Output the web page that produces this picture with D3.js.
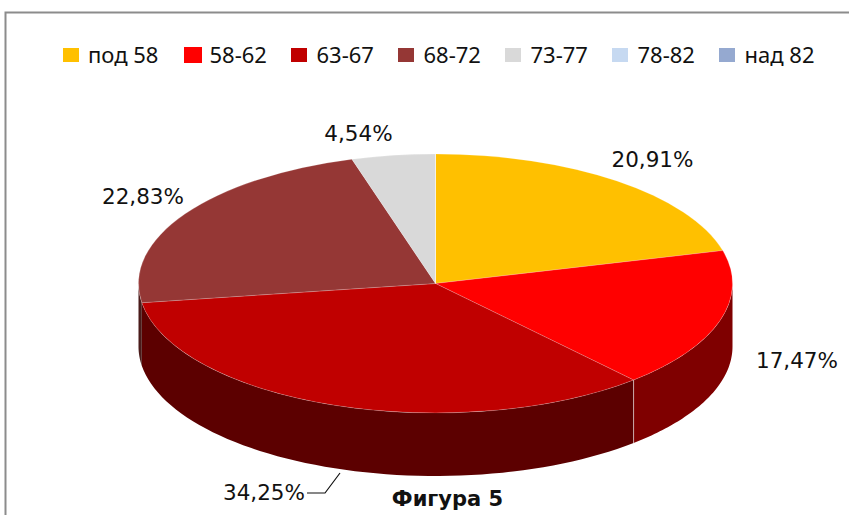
<!DOCTYPE html>
<html>
<head>
<meta charset="utf-8">
<script src="https://cdnjs.cloudflare.com/ajax/libs/d3/7.8.5/d3.min.js"></script>
<style>
  html, body { margin: 0; padding: 0; background: #fff; }
  svg { display: block; }
</style>
</head>
<body>
<svg width="849" height="515"></svg>
<script>
var categories = ["под 58", "58-62", "63-67", "68-72", "73-77", "78-82", "над 82"];
var shares = [20.91, 17.47, 34.25, 22.83, 4.54, 0, 0];
var shareLabels = ["20,91%", "17,47%", "34,25%", "22,83%", "4,54%", "", ""];
var caption = "Фигура 5";

var topColors = ["#ffc000", "#ff0000", "#c00000", "#953735", "#d9d9d9", "#c6d9f1", "#95a9d0"];
var wallColors = ["#7f6000", "#7f0000", "#5c0000", "#4a1b1a", "#6c6c6c", "#627080", "#4a5468"];

var svg = d3.select("svg"),
  width = +svg.attr("width"),
  height = +svg.attr("height");

var cx = 435.5,
  cy = 283.5,
  rx = 297,
  ry = 129.5,
  depth = 63;

// frame, only top and left show in the crop
svg
  .append("path")
  .attr("d", "M5.5," + height + "V12.5H" + width)
  .attr("fill", "none")
  .attr("stroke", "#8c8c8c")
  .attr("stroke-width", 2);

var pie = d3
  .pie()
  .sort(null)
  .value(function (d) {
    return d;
  });
var slices = pie(shares);

// walls: the front half of the rim, going down by depth
var rimLine = d3.line();
function rimPoint(a, dy) {
  return [cx + rx * Math.sin(a), cy - ry * Math.cos(a) + dy];
}
function wallPath(d) {
  var a0 = Math.max(d.startAngle, Math.PI / 2);
  var a1 = Math.min(d.endAngle, (3 * Math.PI) / 2);
  if (a1 <= a0) return null;
  var angles = d3.range(0, 61).map(function (i) {
    return a0 + ((a1 - a0) * i) / 60;
  });
  var upper = angles.map(function (a) {
    return rimPoint(a, 0);
  });
  var lower = angles
    .slice()
    .reverse()
    .map(function (a) {
      return rimPoint(a, depth);
    });
  return rimLine(upper.concat(lower)) + "Z";
}

svg
  .append("g")
  .selectAll("path")
  .data(slices)
  .enter()
  .append("path")
  .attr("d", wallPath)
  .attr("fill", function (d, i) {
    return wallColors[i];
  });

// edge between the red and dark red walls
var edgeAngle = slices[1].endAngle;
svg
  .append("line")
  .attr("x1", rimPoint(edgeAngle, 0)[0])
  .attr("y1", rimPoint(edgeAngle, 0)[1])
  .attr("x2", rimPoint(edgeAngle, depth)[0])
  .attr("y2", rimPoint(edgeAngle, depth)[1])
  .attr("stroke", "#c9a9a9")
  .attr("stroke-width", 1);

var arc = d3.arc().innerRadius(0).outerRadius(rx);

svg
  .append("g")
  .attr("transform", "translate(" + cx + "," + cy + ") scale(1," + ry / rx + ")")
  .selectAll("path")
  .data(slices)
  .enter()
  .append("path")
  .attr("d", arc)
  .attr("fill", function (d, i) {
    return topColors[i];
  })
  .attr("stroke", "#fff")
  .attr("stroke-opacity", 0.3)
  .attr("stroke-width", 0.6)
  .attr("vector-effect", "non-scaling-stroke");

// legend
var legendX = d3.scaleLinear().domain([1, 6]).range([184, 719]);
var legend = svg
  .append("g")
  .selectAll("g")
  .data(categories)
  .enter()
  .append("g")
  .attr("transform", function (d, i) {
    return "translate(" + (i === 0 ? 63 : legendX(i)) + ",0)";
  });
legend
  .append("rect")
  .attr("y", function (d, i) {
    return i === 1 ? 47 : 48;
  })
  .attr("width", function (d, i) {
    return i === 1 ? 18 : 16;
  })
  .attr("height", function (d, i) {
    return i === 1 ? 16 : 14;
  })
  .attr("fill", function (d, i) {
    return topColors[i];
  });
legend
  .append("text")
  .attr("x", function (d, i) {
    return i === 0 ? 25 : 25.5;
  })
  .attr("y", 63)
  .attr("font-family", "'Noto Sans', sans-serif")
  .attr("font-size", 22)
  .attr("fill", "#111")
  .text(function (d) {
    return d;
  });

// value labels, hand placed like the original
var labelX = [652.5, 797, 264, 143, 358.5];
var labelY = [167, 368, 500, 204, 141];
svg
  .append("g")
  .selectAll("text")
  .data(shareLabels.slice(0, 5))
  .enter()
  .append("text")
  .attr("x", function (d, i) {
    return labelX[i];
  })
  .attr("y", function (d, i) {
    return labelY[i];
  })
  .attr("text-anchor", "middle")
  .attr("font-family", "'DejaVu Sans', sans-serif")
  .attr("font-size", 21.5)
  .attr("fill", "#111")
  .text(function (d) {
    return d;
  });

// leader for 34,25%
svg
  .append("path")
  .attr("d", "M340,473L325,493H307")
  .attr("fill", "none")
  .attr("stroke", "#111")
  .attr("stroke-width", 1.2);

svg
  .append("text")
  .attr("x", 447.5)
  .attr("y", 506)
  .attr("text-anchor", "middle")
  .attr("font-family", "'DejaVu Sans', sans-serif")
  .attr("font-weight", "bold")
  .attr("font-size", 21)
  .attr("fill", "#111")
  .text(caption);
</script>
</body>
</html>
